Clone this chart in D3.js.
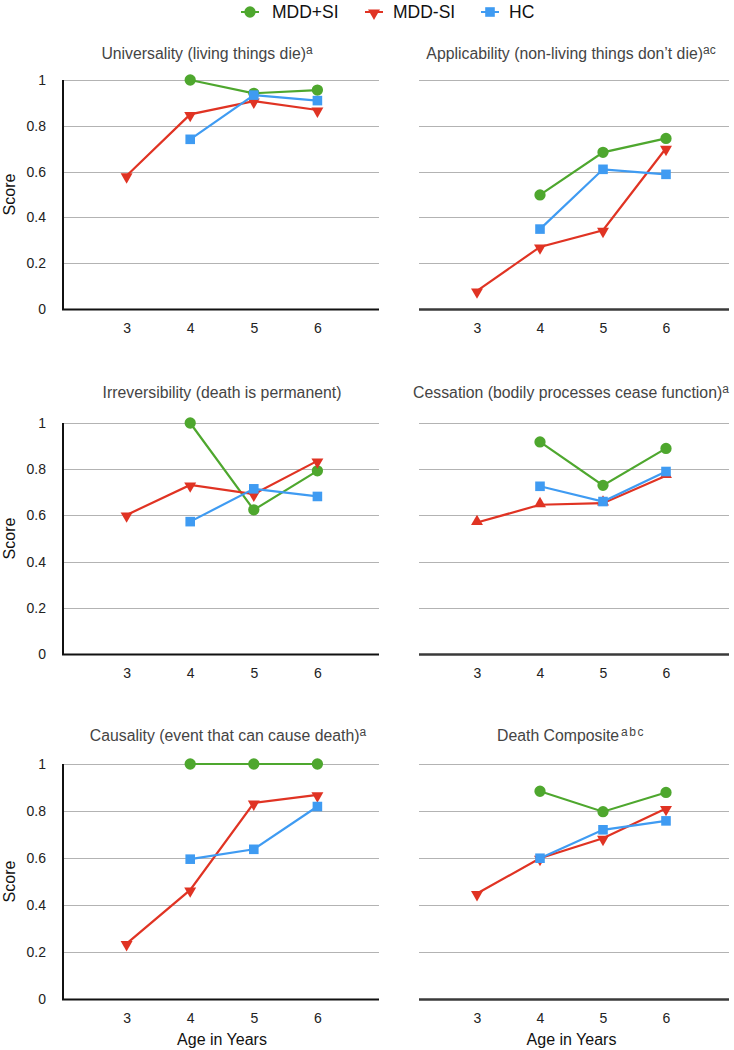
<!DOCTYPE html>
<html>
<head>
<meta charset="utf-8">
<script src="https://cdn.jsdelivr.net/npm/d3@7"></script>
<style>
  html, body { margin: 0; padding: 0; background: #fff; }
  svg { display: block; }
  text { font-family: "Liberation Sans", Arial, Helvetica, sans-serif; }
</style>
</head>
<body>
<svg id="chart" width="734" height="1050"></svg>
<script>
// ---------- DATA ----------
const ages = [3, 4, 5, 6];
const yTicks = [0, 0.2, 0.4, 0.6, 0.8, 1];
const yTickLabels = ["0", "0.2", "0.4", "0.6", "0.8", "1"];
const seriesNames = ["MDD+SI", "MDD-SI", "HC"];
const panelTitles = [
  "Universality (living things die)",
  "Applicability (non-living things don\u2019t die)",
  "Irreversibility (death is permanent)",
  "Cessation (bodily processes cease function)",
  "Causality (event that can cause death)",
  "Death Composite"
];
const panelSuperscripts = ["a", "ac", "", "a", "a", "abc"];

// values per panel, indexed by age 3,4,5,6 (null = not measured)
const mddPlusSI = [
  [null, 1.000, 0.942, 0.956],
  [null, 0.498, 0.684, 0.745],
  [null, 1.000, 0.624, 0.793],
  [null, 0.918, 0.730, 0.890],
  [null, 1.000, 1.000, 1.000],
  [null, 0.884, 0.797, 0.879]
];
const mddMinusSI = [
  [0.582, 0.850, 0.908, 0.869],
  [0.079, 0.271, 0.344, 0.702],
  [0.602, 0.732, 0.692, 0.836],
  [0.569, 0.646, 0.653, 0.772],
  [0.236, 0.464, 0.834, 0.869],
  [0.449, 0.599, 0.684, 0.811]
];
const hc = [
  [null, 0.741, 0.934, 0.910],
  [null, 0.349, 0.610, 0.588],
  [null, 0.573, 0.715, 0.682],
  [null, 0.726, 0.660, 0.790],
  [null, 0.595, 0.637, 0.819],
  [null, 0.599, 0.720, 0.758]
];

// ---------- STYLE / LAYOUT ----------
const colors = { "MDD+SI": "#4ea72e", "MDD-SI": "#e03323", "HC": "#3f9bf2" };
const svg = d3.select("#chart");

const cols = [
  { x0: 63, x1: 379, scale0: 63, scale1: 381, yAxis: true },
  { x0: 419, x1: 729, scale0: 414, scale1: 729, yAxis: false }
];
const rows = [
  { top: 80, bottom: 309, titleY: 59 },
  { top: 423, bottom: 654, titleY: 398 },
  { top: 764, bottom: 999, titleY: 741 }
];
const titleCenters = [207, 571, 222, 571, 228, 571];

// ---------- LEGEND ----------
const legendItems = [
  { name: "MDD+SI", mx: 250, tx: 272, shape: "circle" },
  { name: "MDD-SI", mx: 374, tx: 393, shape: "tridown" },
  { name: "HC", mx: 490, tx: 509, shape: "square" }
];
function symbolPath(shape) {
  if (shape === "circle") return d3.symbol(d3.symbolCircle, 100)();
  if (shape === "square") return d3.symbol(d3.symbolSquare, 92)();
  return d3.symbol(d3.symbolTriangle, 62)();
}
function symbolTransform(shape, x, y) {
  if (shape === "tridown") return `translate(${x},${y + 1}) rotate(180)`;
  if (shape === "triup") return `translate(${x},${y - 1})`;
  return `translate(${x},${y})`;
}
const legend = svg.append("g");
legendItems.forEach(it => {
  legend.append("line").attr("x1", it.mx - 9).attr("x2", it.mx + 9)
    .attr("y1", 12).attr("y2", 12)
    .attr("stroke", colors[it.name]).attr("stroke-width", 2);
  legend.append("path").attr("d", symbolPath(it.shape))
    .attr("transform", symbolTransform(it.shape, it.mx, 12))
    .attr("fill", colors[it.name]);
  legend.append("text").attr("x", it.tx).attr("y", 18)
    .attr("font-size", 17.5).attr("fill", "#111").text(it.name);
});

// ---------- PANELS ----------
panelTitles.forEach((title, i) => {
  const col = cols[i % 2];
  const row = rows[Math.floor(i / 2)];
  const x = d3.scaleLinear().domain([2, 7]).range([col.scale0, col.scale1]);
  const y = d3.scaleLinear().domain([0, 1]).range([row.bottom, row.top]);
  const g = svg.append("g");

  // gridlines
  g.append("g").selectAll("line").data(yTicks.filter(t => t > 0)).join("line")
    .attr("x1", col.x0).attr("x2", col.x1)
    .attr("y1", d => Math.round(y(d)) + 0.5).attr("y2", d => Math.round(y(d)) + 0.5)
    .attr("stroke", "#b3b3b3").attr("stroke-width", 1.2);

  // x axis
  const xAxis = d3.axisBottom(x).tickValues(ages).tickSize(0).tickPadding(14)
    .tickFormat(d3.format("d"));
  const xg = g.append("g").attr("transform", `translate(0,${Math.round(y(0))})`).call(xAxis);
  xg.select(".domain").remove();
  xg.selectAll("text").attr("font-size", 14).attr("fill", "#222")
    .style("font-family", "'Liberation Sans', Arial, sans-serif");
  g.append("line").attr("x1", col.x0 - (col.yAxis ? 1 : 0)).attr("x2", col.x1)
    .attr("y1", Math.round(y(0)) + 0.5).attr("y2", Math.round(y(0)) + 0.5)
    .attr("stroke", col.yAxis ? "#111" : "#3a3a3a").attr("stroke-width", col.yAxis ? 2 : 2.4);

  // y axis
  if (col.yAxis) {
    const yAxis = d3.axisLeft(y).tickValues(yTicks).tickSize(0).tickPadding(17)
      .tickFormat((d, k) => yTickLabels[k]);
    const yg = g.append("g").attr("transform", `translate(${col.x0},0)`).call(yAxis);
    yg.select(".domain").remove();
    yg.selectAll("text").attr("font-size", 14).attr("fill", "#222")
      .style("font-family", "'Liberation Sans', Arial, sans-serif");
    g.append("line").attr("x1", col.x0).attr("x2", col.x0)
      .attr("y1", y(1)).attr("y2", y(0) + 1)
      .attr("stroke", "#111").attr("stroke-width", 2);
    g.append("text")
      .attr("transform", `translate(15,${(row.top + row.bottom) / 2}) rotate(-90)`)
      .attr("text-anchor", "middle").attr("font-size", 16).attr("fill", "#111")
      .text("Score");
  }

  // title
  const t = g.append("text").attr("x", titleCenters[i]).attr("y", row.titleY)
    .attr("text-anchor", "middle").attr("font-size", 15.8).attr("fill", "#444");
  t.append("tspan").text(title);
  if (panelSuperscripts[i]) {
    t.append("tspan").attr("dy", -5).attr("dx", i === 5 ? 2 : 0).attr("font-size", 12)
      .attr("letter-spacing", i === 5 ? 1.5 : 0).text(panelSuperscripts[i]);
  }

  // series
  const seriesData = [
    { name: "MDD+SI", vals: mddPlusSI[i], shape: "circle" },
    { name: "MDD-SI", vals: mddMinusSI[i], shape: i === 3 ? "triup" : "tridown" },
    { name: "HC", vals: hc[i], shape: "square" }
  ];
  const line = d3.line()
    .defined(d => d.v !== null)
    .x(d => x(d.age)).y(d => y(d.v));
  seriesData.forEach(s => {
    const pts = ages.map((a, k) => ({ age: a, v: s.vals[k] }));
    g.append("path").datum(pts).attr("d", line)
      .attr("fill", "none").attr("stroke", colors[s.name]).attr("stroke-width", 2.2);
    g.append("g").selectAll("path").data(pts.filter(p => p.v !== null)).join("path")
      .attr("d", symbolPath(s.shape))
      .attr("transform", p => symbolTransform(s.shape, x(p.age), y(p.v)))
      .attr("fill", colors[s.name]);
  });

  // x axis label on bottom row
  if (Math.floor(i / 2) === 2) {
    g.append("text").attr("x", x(4.5)).attr("y", 1045)
      .attr("text-anchor", "middle").attr("font-size", 16).attr("fill", "#111")
      .text("Age in Years");
  }
});
</script>
</body>
</html>
